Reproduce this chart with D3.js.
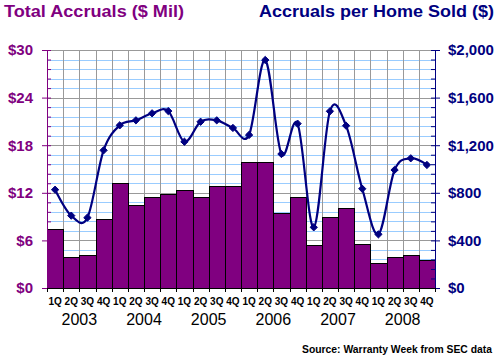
<!DOCTYPE html>
<html>
<head>
<meta charset="utf-8">
<script src="https://cdn.jsdelivr.net/npm/d3@7"></script>
<style>
  body { margin: 0; background: #fff; }
  svg text { font-family: "Liberation Sans", Arial, sans-serif; }
</style>
</head>
<body>
<div id="chart"></div>
<script>
// data
const years = ["2003", "2004", "2005", "2006", "2007", "2008"]
const quarters = ["1Q", "2Q", "3Q", "4Q"]
const totalAccruals = [7.5, 3.9, 4.1, 8.7, 13.2, 10.5, 11.5, 11.9, 12.4, 11.5, 12.9, 12.9,
    15.9, 15.9, 9.5, 11.5, 5.4, 9.0, 10.1, 5.5, 3.1, 3.9, 4.1, 3.5]
const perHomeSold = [826, 608, 591, 1157, 1367, 1409, 1468, 1487, 1229, 1397, 1409, 1345,
    1286, 1916, 1126, 1381, 510, 1485, 1364, 834, 451, 992, 1090, 1034]
const leftTicks = [0, 6, 12, 18, 24, 30]
const rightTicks = [0, 400, 800, 1200, 1600, 2000]

const W = 500, H = 362
const M = { TOP: 50, LEFT: 47, RIGHT: 65, BOTTOM: 74 }
const PW = W - M.LEFT - M.RIGHT
const PH = H - M.TOP - M.BOTTOM

const PURPLE = "#800080"
const NAVY = "#000080"

const keys = []
years.forEach(y => quarters.forEach(q => keys.push(y + q)))

const svg = d3.select("#chart").append("svg")
    .attr("width", W)
    .attr("height", H)

const g = svg.append("g")
    .attr("transform", `translate(${M.LEFT}, ${M.TOP})`)

const x = d3.scaleBand().domain(keys).range([0, PW]).padding(0)
const yL = d3.scaleLinear().domain([0, 30]).range([PH, 0])
const yR = d3.scaleLinear().domain([0, 2000]).range([PH, 0])

// horizontal grid, minor lines light blue, major lines grey
const minor = d3.range(0, 31, 1.2).map(v => Math.round(v * 10) / 10)
g.append("g").selectAll("line")
    .data(minor.filter(v => v % 6 !== 0))
    .enter().append("line")
    .attr("x1", 0).attr("x2", PW)
    .attr("y1", d => Math.round(yL(d)) + 0.5)
    .attr("y2", d => Math.round(yL(d)) + 0.5)
    .attr("stroke", "#99ccff")

g.append("g").selectAll("line")
    .data(leftTicks)
    .enter().append("line")
    .attr("x1", 0).attr("x2", PW)
    .attr("y1", d => Math.round(yL(d)) + 0.5)
    .attr("y2", d => Math.round(yL(d)) + 0.5)
    .attr("stroke", "#999")

// vertical grid at each quarter boundary
g.append("g").selectAll("line")
    .data(keys)
    .enter().append("line")
    .attr("x1", d => Math.round(x(d)) + 0.5)
    .attr("x2", d => Math.round(x(d)) + 0.5)
    .attr("y1", 0).attr("y2", PH)
    .attr("stroke", "#999")

// bars
g.append("g").selectAll("rect")
    .data(totalAccruals)
    .enter().append("rect")
    .attr("x", (d, i) => Math.round(x(keys[i])) + 0.5)
    .attr("width", (d, i) => Math.round(x(keys[i]) + x.bandwidth()) - Math.round(x(keys[i])))
    .attr("y", d => Math.round(yL(d)) + 0.5)
    .attr("height", d => PH - Math.round(yL(d)))
    .attr("fill", PURPLE)
    .attr("stroke", "#000")
    .attr("stroke-width", 1)

// smoothed line
const cx = (d, i) => x(keys[i]) + x.bandwidth() / 2
const line = d3.line()
    .x(cx)
    .y(d => yR(d))
    .curve(d3.curveCardinal.tension(0))

g.append("path")
    .datum(perHomeSold)
    .attr("d", line)
    .attr("fill", "none")
    .attr("stroke", NAVY)
    .attr("stroke-width", 2.2)

g.append("g").selectAll("path")
    .data(perHomeSold)
    .enter().append("path")
    .attr("d", d3.symbol(d3.symbolDiamond2, 34))
    .attr("transform", (d, i) => `translate(${cx(d, i)}, ${yR(d)})`)
    .attr("fill", NAVY)
    .attr("stroke", NAVY)
    .attr("stroke-width", 1)

// left axis
const leftAxis = g.append("g")
    .call(d3.axisLeft(yL).tickValues(leftTicks).tickSize(5).tickPadding(9)
        .tickFormat(d => "$" + d))
leftAxis.select(".domain").attr("stroke", PURPLE)
leftAxis.selectAll(".tick line").attr("stroke", PURPLE)
leftAxis.selectAll("text")
    .attr("fill", PURPLE)
    .attr("font-size", 15)
    .attr("font-weight", "bold")

g.append("g")
    .call(d3.axisRight(yL).tickValues(minor).tickSize(4).tickFormat(""))
    .call(a => a.select(".domain").remove())
    .selectAll("line").attr("stroke", PURPLE)

// right axis
const rightAxis = g.append("g")
    .attr("transform", `translate(${PW}, 0)`)
    .call(d3.axisRight(yR).tickValues(rightTicks).tickSize(5).tickPadding(8)
        .tickFormat(d => "$" + d3.format(",")(d)))
rightAxis.select(".domain").attr("stroke", NAVY)
rightAxis.selectAll(".tick line").attr("stroke", NAVY)
rightAxis.selectAll("text")
    .attr("fill", NAVY)
    .attr("font-size", 15)
    .attr("font-weight", "bold")

g.append("g")
    .attr("transform", `translate(${PW}, 0)`)
    .call(d3.axisLeft(yR).tickValues(d3.range(0, 2001, 80)).tickSize(4).tickFormat(""))
    .call(a => a.select(".domain").remove())
    .selectAll("line").attr("stroke", NAVY)

// x axis
const xAxis = g.append("g")
    .attr("transform", `translate(0, ${PH})`)
xAxis.append("line")
    .attr("x1", 0).attr("x2", PW)
    .attr("y1", 0.5).attr("y2", 0.5)
    .attr("stroke", "#000")
xAxis.selectAll(".qt")
    .data(d3.range(keys.length + 1))
    .enter().append("line")
    .attr("x1", i => Math.round(i * x.step()) + 0.5)
    .attr("x2", i => Math.round(i * x.step()) + 0.5)
    .attr("y1", 0).attr("y2", 4)
    .attr("stroke", "#000")
xAxis.selectAll(".ql")
    .data(keys)
    .enter().append("text")
    .attr("x", d => x(d) + x.bandwidth() / 2)
    .attr("y", 17)
    .attr("text-anchor", "middle")
    .attr("font-size", 10)
    .attr("font-weight", "bold")
    .text(d => d.slice(4))
xAxis.selectAll(".yl")
    .data(years)
    .enter().append("text")
    .attr("x", (d, i) => (i * 4 + 2) * x.step())
    .attr("y", 37)
    .attr("text-anchor", "middle")
    .attr("font-size", 16)
    .text(d => d)

// titles
svg.append("text")
    .attr("x", 4).attr("y", 17)
    .attr("font-size", 17)
    .attr("font-weight", "bold")
    .attr("fill", PURPLE)
    .attr("textLength", 180)
    .attr("lengthAdjust", "spacingAndGlyphs")
    .text("Total Accruals ($ Mil)")

svg.append("text")
    .attr("x", 259).attr("y", 17)
    .attr("font-size", 17)
    .attr("font-weight", "bold")
    .attr("fill", NAVY)
    .attr("textLength", 235)
    .attr("lengthAdjust", "spacingAndGlyphs")
    .text("Accruals per Home Sold ($)")

svg.append("text")
    .attr("x", 302).attr("y", 353)
    .attr("font-size", 10.5)
    .attr("font-weight", "bold")
    .attr("textLength", 190)
    .attr("lengthAdjust", "spacingAndGlyphs")
    .text("Source: Warranty Week from SEC data")
</script>
</body>
</html>
